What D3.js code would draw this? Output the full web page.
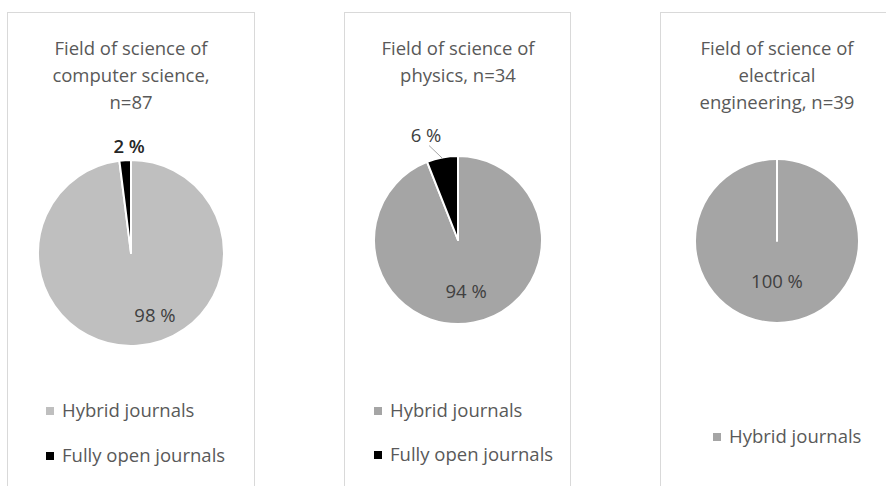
<!DOCTYPE html>
<html>
<head>
<meta charset="utf-8">
<script src="https://cdn.jsdelivr.net/npm/d3@7"></script>
<style>
	body { margin: 0; background: #fff; }
	text { font-family: "Open Sans", Lato, sans-serif; }
</style>
</head>
<body>
<svg id="vis" width="886" height="486"></svg>
<script>
// data
var fields = ["computer science", "physics", "electrical engineering"];
var titles = [
	["Field of science of", "computer science,", "n=87"],
	["Field of science of", "physics, n=34"],
	["Field of science of", "electrical", "engineering, n=39"]
];
var categories = ["Hybrid journals", "Fully open journals"];
var hybridShare = [98, 94, 100];
var openShare = [2, 6, 0];

// layout for each panel (Excel-ish placement)
var PANELS = [
	{ x: 7,   w: 247, cx: 131, cy: 253, r: 93, hybridColor: "#bfbfbf",
	  inR: 0.72, inA: 159, outR: 1.15, outA: -1, leader: false,
	  legendX: 46, legendY: [411, 456] },
	{ x: 344, w: 226, cx: 458, cy: 240, r: 84, hybridColor: "#a5a5a5",
	  inR: 0.62, inA: 171, outR: 1.30, outA: -17, leader: true,
	  legendX: 374, legendY: [411, 455] },
	{ x: 660, w: 240, cx: 777, cy: 241, r: 82, hybridColor: "#a5a5a5",
	  inR: 0.5, inA: 180, outR: 0, outA: 0, leader: false,
	  legendX: 713, legendY: [437] }
];
var PANEL_Y = 12;
var FONT = "18.5px";
var TEXT_COLOR = "#595959";
var LABEL_COLOR = "#404040";

var svg = d3.select("#vis");

var pie = d3.pie().sort(null).value(function(d) { return d.value; });

PANELS.forEach(function(p, i)
{
	var g = svg.append("g");

	// panel frame (bottom runs off the picture)
	g.append("rect")
		.attr("x", p.x + 0.5).attr("y", PANEL_Y + 0.5)
		.attr("width", p.w).attr("height", 520)
		.attr("fill", "#fff")
		.attr("stroke", "#d9d9d9");

	// title
	var title = g.append("text")
		.attr("text-anchor", "middle")
		.attr("fill", TEXT_COLOR)
		.style("font-size", FONT);
	titles[i].forEach(function(line, k) {
		title.append("tspan")
			.attr("x", p.cx)
			.attr("y", 55 + k * 27)
			.text(line);
	});

	var data = [
		{ name: categories[0], value: hybridShare[i], color: p.hybridColor },
		{ name: categories[1], value: openShare[i], color: "#000" }
	];
	var arcs = pie(data);
	var arc = d3.arc().innerRadius(0).outerRadius(p.r);

	var pg = g.append("g")
		.attr("transform", "translate(" + p.cx + "," + p.cy + ")");

	pg.selectAll("path.slice")
		.data(arcs)
		.enter().append("path")
		.attr("class", "slice")
		.attr("d", arc)
		.attr("fill", function(d) { return d.data.color; })
		.attr("stroke", "#fff")
		.attr("stroke-width", 2)
		.attr("stroke-linejoin", "round");

	// white seam at 12 o'clock
	var top = d3.scaleLinear().domain([0, 1]).range([0, -p.r]);
	pg.append("line")
		.attr("x1", 0).attr("y1", top(0))
		.attr("x2", 0).attr("y2", top(1))
		.attr("stroke", "#fff").attr("stroke-width", 2);

	// inside label for the hybrid slice
	var rad = Math.PI / 180;
	pg.append("text")
		.attr("x", Math.sin(p.inA * rad) * p.r * p.inR)
		.attr("y", -Math.cos(p.inA * rad) * p.r * p.inR)
		.attr("dy", "0.35em")
		.attr("text-anchor", "middle")
		.attr("fill", LABEL_COLOR)
		.style("font-size", FONT)
		.text(hybridShare[i] + " %");

	// outside label for the open slice
	if (openShare[i] > 0)
	{
		var lx = Math.sin(p.outA * rad) * p.r * p.outR;
		var ly = -Math.cos(p.outA * rad) * p.r * p.outR;
		pg.append("text")
			.attr("x", lx).attr("y", ly)
			.attr("dy", "0.35em")
			.attr("text-anchor", "middle")
			.attr("fill", i == 0 ? "#262626" : LABEL_COLOR)
			.style("font-size", FONT)
			.style("font-weight", i == 0 ? "600" : "normal")
			.text(openShare[i] + " %");

		if (p.leader)
		{
			var mid = (arcs[1].startAngle + arcs[1].endAngle) / 2;
			pg.append("line")
				.attr("x1", lx + 3).attr("y1", ly + 10)
				.attr("x2", Math.sin(mid) * p.r * 0.99)
				.attr("y2", -Math.cos(mid) * p.r * 0.99)
				.attr("stroke", "#a6a6a6").attr("stroke-width", 1);
		}
	}

	// legend
	var shown = data.filter(function(d) { return d.value > 0; });
	var lg = g.selectAll("g.legend")
		.data(shown)
		.enter().append("g")
		.attr("class", "legend")
		.attr("transform", function(d, k) {
			return "translate(" + p.legendX + "," + p.legendY[k] + ")";
		});
	lg.append("rect")
		.attr("x", 0).attr("y", -4)
		.attr("width", 8).attr("height", 8)
		.attr("fill", function(d) { return d.color; });
	lg.append("text")
		.attr("x", 16).attr("dy", "0.35em")
		.attr("fill", TEXT_COLOR)
		.style("font-size", FONT)
		.text(function(d) { return d.name; });
});
</script>
</body>
</html>
